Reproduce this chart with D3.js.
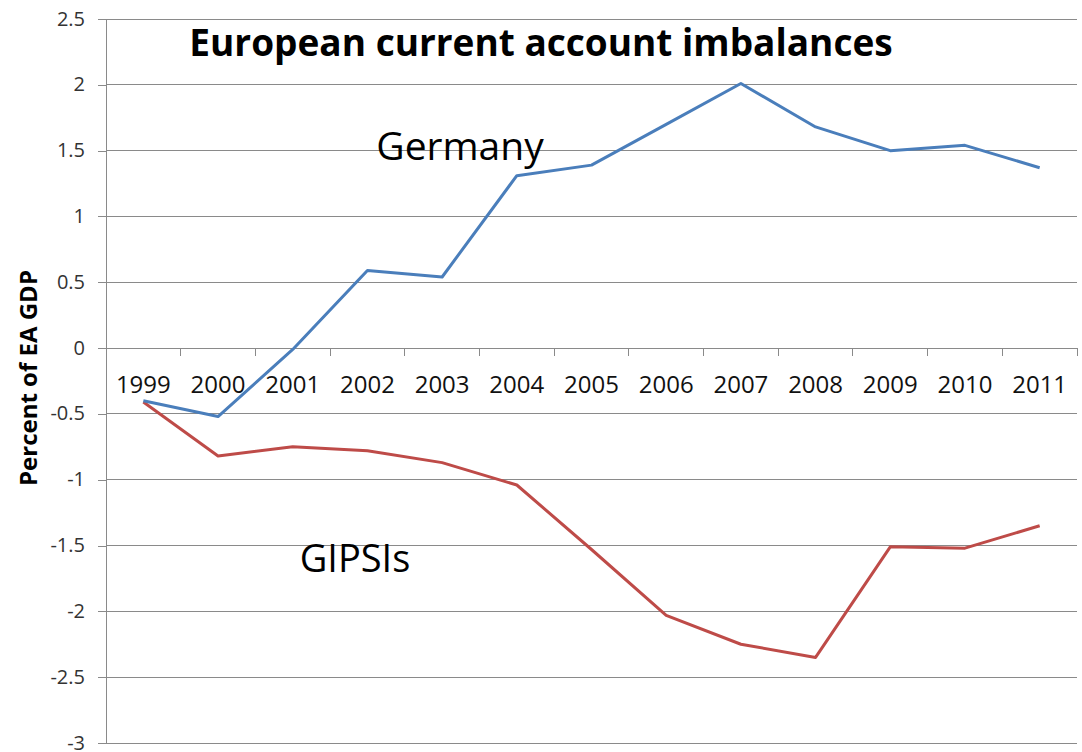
<!DOCTYPE html>
<html>
<head>
<meta charset="utf-8">
<script src="https://cdn.jsdelivr.net/npm/d3@7"></script>
<style>
  html, body { margin: 0; padding: 0; background: #fff; }
  svg { display: block; }
</style>
</head>
<body>
<svg id="chart" width="1082" height="752"></svg>
<script>
const years = ["1999","2000","2001","2002","2003","2004","2005","2006","2007","2008","2009","2010","2011"];
const germany = [-0.40, -0.52, -0.01, 0.59, 0.54, 1.31, 1.39, 1.70, 2.01, 1.68, 1.50, 1.54, 1.37];
const gipsis  = [-0.41, -0.82, -0.75, -0.78, -0.87, -1.04, -1.53, -2.03, -2.25, -2.35, -1.51, -1.52, -1.35];
const yTicks = [2.5, 2, 1.5, 1, 0.5, 0, -0.5, -1, -1.5, -2, -2.5, -3];
const titleText = "European current account imbalances";
const yLabel = "Percent of EA GDP";

const svg = d3.select("#chart");
const plotLeft = 106, plotRight = 1077, plotTop = 19, plotBottom = 743;
const font = "'Open Sans', 'Noto Sans', sans-serif";
const gridColor = "#8a8a8a";

const x = d3.scaleBand().domain(years).range([plotLeft, plotRight]);
const y = d3.scaleLinear().domain([-3, 2.5]).range([plotBottom, plotTop]);

// gridlines
svg.append("g").selectAll("line").data(yTicks).join("line")
  .attr("x1", plotLeft).attr("x2", plotRight)
  .attr("y1", d => y(d)).attr("y2", d => y(d))
  .attr("stroke", gridColor).attr("stroke-width", 1)
  .attr("shape-rendering", "crispEdges");

// y axis
const yAxis = d3.axisLeft(y).tickValues(yTicks).tickSize(8).tickPadding(13)
  .tickFormat(d => String(d));
const gy = svg.append("g").attr("transform", `translate(${plotLeft},0)`).call(yAxis);
gy.select(".domain").attr("stroke", gridColor).attr("shape-rendering", "crispEdges");
gy.selectAll(".tick line").attr("stroke", gridColor).attr("shape-rendering", "crispEdges");
gy.selectAll(".tick text").attr("font-family", font).attr("font-size", 20).attr("fill", "#333")
  .attr("dy", "0.3em");

// x axis at zero: ticks at category boundaries
const bounds = years.map(d => x(d)).concat([plotRight]);
svg.append("g").selectAll("line").data(bounds).join("line")
  .attr("x1", d => d).attr("x2", d => d)
  .attr("y1", y(0)).attr("y2", y(0) + 8)
  .attr("stroke", gridColor).attr("shape-rendering", "crispEdges");

svg.append("g").selectAll("text").data(years).join("text")
  .attr("x", d => x(d) + x.bandwidth() / 2)
  .attr("y", y(0) + 45)
  .attr("text-anchor", "middle")
  .attr("font-family", font).attr("font-size", 24).attr("fill", "#111")
  .text(d => d);

// lines
const line = d3.line().x((d, i) => x(years[i]) + x.bandwidth() / 2).y(d => y(d));
svg.append("path").datum(gipsis).attr("d", line)
  .attr("fill", "none").attr("stroke", "#BE4B48").attr("stroke-width", 3).attr("stroke-linejoin", "round");
svg.append("path").datum(germany).attr("d", line)
  .attr("fill", "none").attr("stroke", "#4A7EBB").attr("stroke-width", 3).attr("stroke-linejoin", "round");

// title
svg.append("text").attr("x", 541).attr("y", 56).attr("text-anchor", "middle")
  .attr("font-family", font).attr("font-weight", "bold").attr("font-size", 37).attr("fill", "#000")
  .text(titleText);

// series labels
svg.append("text").attr("x", 460).attr("y", 160).attr("text-anchor", "middle")
  .attr("font-family", font).attr("font-size", 39).attr("fill", "#000").text("Germany");
svg.append("text").attr("x", 355).attr("y", 572).attr("text-anchor", "middle")
  .attr("font-family", font).attr("font-size", 38).attr("fill", "#000").text("GIPSIs");

// y label
svg.append("text").attr("transform", "translate(37,378) rotate(-90)").attr("text-anchor", "middle")
  .attr("font-family", font).attr("font-weight", "bold").attr("font-size", 24).attr("fill", "#000")
  .text(yLabel);
</script>
</body>
</html>
